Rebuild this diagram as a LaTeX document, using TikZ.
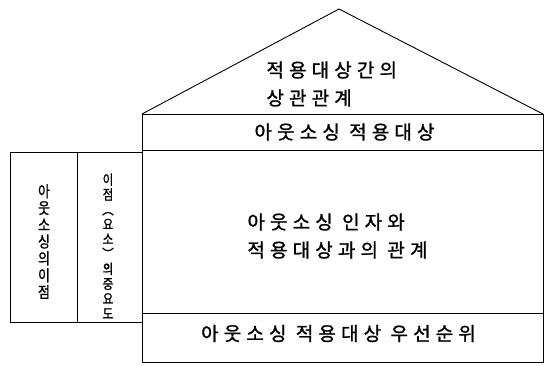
\documentclass[tikz,border=0pt]{standalone}
\usepackage{fontspec}
\usepackage{graphicx}
\newfontfamily\kr[LetterSpace=27,FakeBold=1.2]{Noto Sans CJK KR}
\newfontfamily\krv[FakeBold=1.2]{Noto Sans CJK KR}
\newcommand\vcol[3]{\scalebox{1}[1.2]{\vbox{\krv\fontsize{#1}{#2}\selectfont\lineskiplimit=-100pt\relax\halign{\hfil##\hfil\cr #3\crcr}}}}
\begin{document}
\begin{tikzpicture}[x=1pt,y=-1pt,line width=0.9pt,
  hlabel/.style={inner sep=0pt,font=\kr\fontsize{19}{28}\selectfont},
  vlabel/.style={inner sep=0pt},
  band/.style={draw,inner sep=0pt}]
\useasboundingbox (0,0) rectangle (545,365);
% roof
\coordinate (apex) at (339,9);
\coordinate (rl) at (142,114);
\coordinate (rr) at (543,114);
\draw (rl) -- (apex) -- (rr);
% main body bands
\node[band,minimum width=401pt,minimum height=36pt] (b1) at (342.5,132) {};
\node[band,minimum width=401pt,minimum height=163pt] (b2) at (342.5,231.5) {};
\node[band,minimum width=401pt,minimum height=49pt] (b3) at (342.5,337.5) {};
% side columns
\node[band,minimum width=67pt,minimum height=170pt] (s1) at (43.5,237) {};
\node[band,minimum width=65pt,minimum height=170pt] (s2) at (109.5,237) {};
% texts
\node[hlabel,anchor=west,align=left] (t0) at (266,84) {적용대상간의\\상관관계};
\node[hlabel] (t1) at ([xshift=2pt]b1.center) {아웃소싱 적용대상};
\node[hlabel,anchor=west,align=left] (t2) at (247,236) {아웃소싱 인자와\\적용대상과의 관계};
\node[hlabel] (t3) at ([xshift=-4pt,yshift=4pt]b3.center) {아웃소싱 적용대상 우선순위};
\node[vlabel] (v1) at (44,241.5) {\vcol{13}{14}{아\cr 웃\cr 소\cr 싱\cr 의\cr 이\cr 점}};
\node[vlabel] (v2) at (108,246) {\vcol{11.5}{12.4}{이\cr 점\cr ︵\cr 요\cr 소\cr ︶\cr 의\cr 중\cr 요\cr 도}};
\end{tikzpicture}
\end{document}
